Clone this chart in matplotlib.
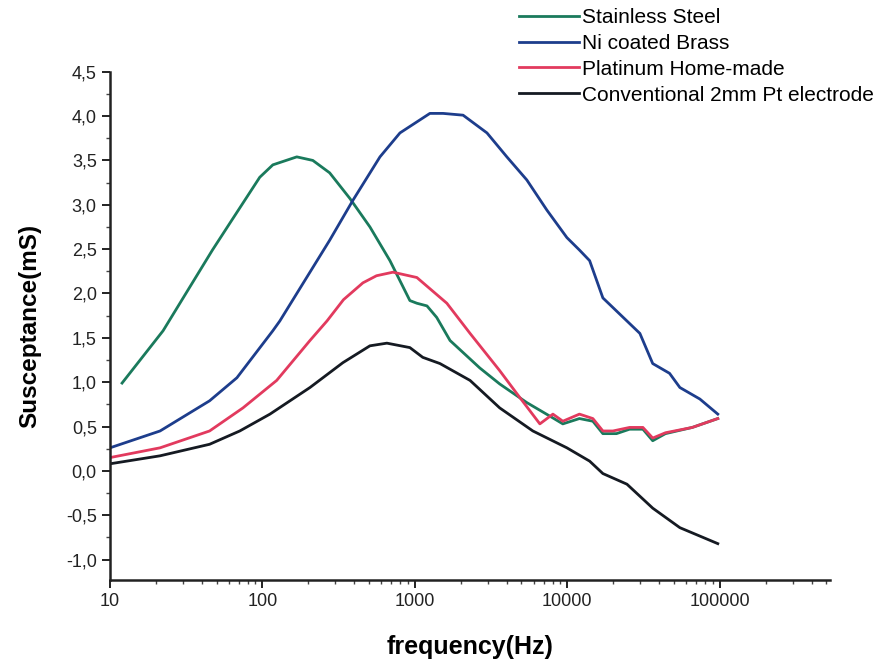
import matplotlib.pyplot as plt
from matplotlib.ticker import FixedLocator, FuncFormatter, LogLocator, MultipleLocator, NullFormatter

# Stainless steel
ss_f = [12, 22.3, 47, 61, 96, 117, 168, 214, 276, 375, 507, 686, 927, 1030, 1200,
        1390, 1700, 2666, 3600, 5420, 7630, 9340, 12000, 14700, 17100, 21000,
        25600, 31300, 36300, 44000, 66000, 97000]
ss_v = [0.99, 1.58, 2.49, 2.79, 3.31, 3.45, 3.54, 3.50, 3.36, 3.07, 2.75, 2.37,
        1.92, 1.89, 1.86, 1.73, 1.47, 1.16, 0.98, 0.77, 0.62, 0.53, 0.59, 0.56,
        0.42, 0.42, 0.47, 0.47, 0.34, 0.42, 0.49, 0.59]

# Ni coated brass
ni_f = [10, 21.3, 45, 68, 117, 130, 276, 392, 590, 798, 1254, 1530, 2070, 2970,
        4010, 5420, 7340, 9930, 12000, 14000, 17100, 29900, 36300, 46800, 54700,
        74000, 97000]
ni_v = [0.26, 0.45, 0.79, 1.05, 1.58, 1.69, 2.60, 3.05, 3.54, 3.81, 4.03, 4.03,
        4.01, 3.81, 3.54, 3.28, 2.94, 2.63, 2.49, 2.37, 1.95, 1.55, 1.21, 1.10,
        0.94, 0.81, 0.64]

# Platinum home-made
pt_f = [10, 21.3, 45, 74.5, 124, 205, 265, 340, 456, 560, 718, 1030, 1620, 2300,
        3600, 4670, 6600, 8040, 9340, 12000, 14700, 17100, 19900, 25600, 31300,
        36300, 44000, 66000, 97000]
pt_v = [0.15, 0.26, 0.45, 0.71, 1.02, 1.47, 1.69, 1.93, 2.12, 2.20, 2.24, 2.18,
        1.89, 1.55, 1.13, 0.87, 0.53, 0.64, 0.56, 0.64, 0.59, 0.45, 0.45, 0.49,
        0.49, 0.37, 0.43, 0.49, 0.59]

# Conventional 2mm Pt electrode
cv_f = [10, 21.3, 45, 71, 112, 205, 337, 507, 655, 927, 1126, 1460, 2300, 3600,
        5940, 9930, 14000, 17100, 24600, 36300, 54700, 97000]
cv_v = [0.08, 0.17, 0.30, 0.45, 0.64, 0.94, 1.22, 1.41, 1.44, 1.39, 1.28, 1.21,
        1.02, 0.71, 0.45, 0.26, 0.11, -0.03, -0.15, -0.42, -0.64, -0.82]

labels = ["Stainless Steel", "Ni coated Brass", "Platinum Home-made",
          "Conventional 2mm Pt electrode"]
colors = ["#1a7a5c", "#1d3d8c", "#e23a5e", "#151a22"]

y_ticks = [-1.0, -0.5, 0.0, 0.5, 1.0, 1.5, 2.0, 2.5, 3.0, 3.5, 4.0, 4.5]
x_ticks = [10, 100, 1000, 10000, 100000]


def main():
    plt.rcParams["font.family"] = ["Liberation Sans", "DejaVu Sans"]

    fig = plt.figure(figsize=(8.87, 6.64), dpi=100)
    ax = fig.add_axes([0.124, 0.1265, 0.812, 0.7655])

    series = [(ss_f, ss_v), (ni_f, ni_v), (pt_f, pt_v), (cv_f, cv_v)]
    for (f, v), lab, col in zip(series, labels, colors):
        ax.plot(f, v, color=col, lw=2.0, label=lab, solid_joinstyle="round")

    ax.set_xscale("log")
    ax.set_xlim(10, 5.3e5)
    ax.set_ylim(-1.23, 4.5)

    ax.xaxis.set_major_locator(FixedLocator(x_ticks))
    ax.xaxis.set_major_formatter(FuncFormatter(lambda x, p: f"{int(x)}"))
    ax.xaxis.set_minor_locator(LogLocator(base=10, subs=range(2, 10)))
    ax.xaxis.set_minor_formatter(NullFormatter())

    ax.yaxis.set_major_locator(FixedLocator(y_ticks))
    ax.yaxis.set_minor_locator(MultipleLocator(0.25))
    ax.yaxis.set_major_formatter(
        FuncFormatter(lambda y, p: f"{y:.1f}".replace(".", ",").replace("-0,0", "0,0")))

    for side in ("top", "right"):
        ax.spines[side].set_visible(False)
    for side in ("left", "bottom"):
        ax.spines[side].set_linewidth(1.8)
        ax.spines[side].set_color("#222222")

    ax.tick_params(which="major", direction="out", length=6, width=1.4,
                   labelsize=13, colors="#222222")
    ax.tick_params(which="minor", direction="out", length=3, width=1.0,
                   colors="#444444")

    ax.set_xlabel("frequency(Hz)", fontsize=18, fontweight="bold", labelpad=18)
    ax.set_ylabel("Susceptance(mS)", fontsize=17.5, fontweight="bold", labelpad=18)

    ax.legend(loc="upper left", bbox_to_anchor=(0.585, 0.988),
              bbox_transform=fig.transFigure, frameon=False, fontsize=15,
              handlelength=2.9, handletextpad=0.15, labelspacing=0.33,
              borderaxespad=0, borderpad=0)

    fig.savefig("out.png", dpi=100, facecolor="white")
    plt.close(fig)


if __name__ == "__main__":
    main()
